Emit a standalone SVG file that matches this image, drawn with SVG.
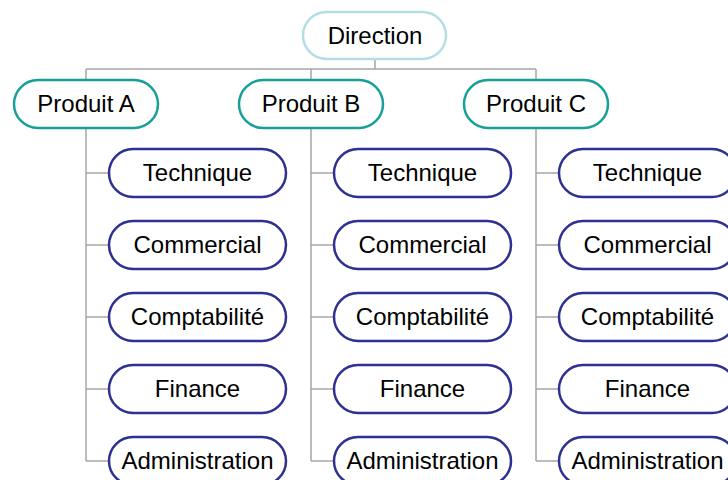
<svg xmlns="http://www.w3.org/2000/svg" width="728" height="480" viewBox="0 0 728 480">
<style>
.t{font-family:"Liberation Sans",Arial,sans-serif;font-size:24px;fill:#000;text-anchor:middle}
.top{fill:#fff;stroke:#b3dfe4;stroke-width:2.5}
.mid{fill:#fff;stroke:#17a098;stroke-width:2.5}
.leaf{fill:#fff;stroke:#2e3192;stroke-width:2.5}
.c{fill:none;stroke:#a6a6a6;stroke-width:1.5}
</style>
<rect width="728" height="480" fill="#fff"/>
<g id="connectors">
<path class="c" d="M375 60V69M86 69H536M86 69V80M311 69V80M536 69V80"/>
<path class="c" d="M86 128V461M86 173H109M86 245H109M86 317H109M86 389H109M86 461H109"/>
<path class="c" d="M311 128V461M311 173H334M311 245H334M311 317H334M311 389H334M311 461H334"/>
<path class="c" d="M536 128V461M536 173H559M536 245H559M536 317H559M536 389H559M536 461H559"/>
</g>
<g id="direction"><rect class="top" x="303" y="12" width="143" height="47" rx="23.5"/><text class="t" x="375" y="44">Direction</text></g>
<g id="produitA"><rect class="mid" x="14" y="80" width="144" height="48" rx="24"/><text class="t" x="86" y="112">Produit A</text></g>
<g id="produitB"><rect class="mid" x="239" y="80" width="144" height="48" rx="24"/><text class="t" x="311" y="112">Produit B</text></g>
<g id="produitC"><rect class="mid" x="464" y="80" width="144" height="48" rx="24"/><text class="t" x="536" y="112">Produit C</text></g>
<g id="a-technique"><rect class="leaf" x="109" y="149" width="177" height="48" rx="24"/><text class="t" x="197.5" y="181">Technique</text></g>
<g id="a-commercial"><rect class="leaf" x="109" y="221" width="177" height="48" rx="24"/><text class="t" x="197.5" y="253">Commercial</text></g>
<g id="a-comptabilite"><rect class="leaf" x="109" y="293" width="177" height="48" rx="24"/><text class="t" x="197.5" y="325">Comptabilité</text></g>
<g id="a-finance"><rect class="leaf" x="109" y="365" width="177" height="48" rx="24"/><text class="t" x="197.5" y="397">Finance</text></g>
<g id="a-administration"><rect class="leaf" x="109" y="437" width="177" height="48" rx="24"/><text class="t" x="197.5" y="469">Administration</text></g>
<g id="b-technique"><rect class="leaf" x="334" y="149" width="177" height="48" rx="24"/><text class="t" x="422.5" y="181">Technique</text></g>
<g id="b-commercial"><rect class="leaf" x="334" y="221" width="177" height="48" rx="24"/><text class="t" x="422.5" y="253">Commercial</text></g>
<g id="b-comptabilite"><rect class="leaf" x="334" y="293" width="177" height="48" rx="24"/><text class="t" x="422.5" y="325">Comptabilité</text></g>
<g id="b-finance"><rect class="leaf" x="334" y="365" width="177" height="48" rx="24"/><text class="t" x="422.5" y="397">Finance</text></g>
<g id="b-administration"><rect class="leaf" x="334" y="437" width="177" height="48" rx="24"/><text class="t" x="422.5" y="469">Administration</text></g>
<g id="c-technique"><rect class="leaf" x="559" y="149" width="177" height="48" rx="24"/><text class="t" x="647.5" y="181">Technique</text></g>
<g id="c-commercial"><rect class="leaf" x="559" y="221" width="177" height="48" rx="24"/><text class="t" x="647.5" y="253">Commercial</text></g>
<g id="c-comptabilite"><rect class="leaf" x="559" y="293" width="177" height="48" rx="24"/><text class="t" x="647.5" y="325">Comptabilité</text></g>
<g id="c-finance"><rect class="leaf" x="559" y="365" width="177" height="48" rx="24"/><text class="t" x="647.5" y="397">Finance</text></g>
<g id="c-administration"><rect class="leaf" x="559" y="437" width="177" height="48" rx="24"/><text class="t" x="647.5" y="469">Administration</text></g>
</svg>
